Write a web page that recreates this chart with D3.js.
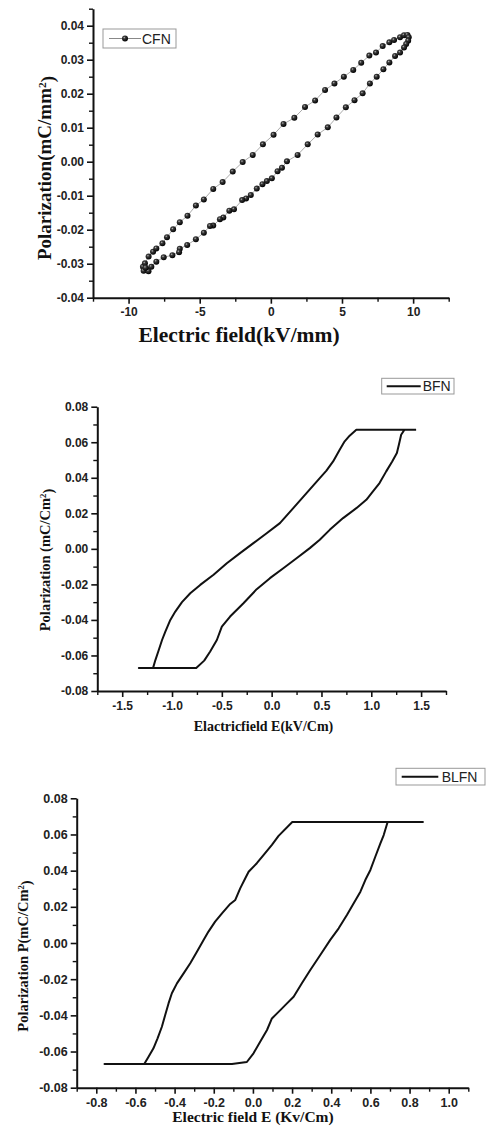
<!DOCTYPE html>
<html>
<head>
<meta charset="utf-8">
<script src="https://cdn.jsdelivr.net/npm/d3@7"></script>
<style>
  html, body { margin: 0; padding: 0; background: #fff; }
  svg { display: block; }
  .tick text { font-family: "Liberation Sans", Arial, sans-serif; font-weight: bold; fill: #222; }
</style>
</head>
<body>
<svg id="chart" width="486" height="1133"></svg>
<script>
// ---------------- DATA ----------------
// CFN (dots)
const cfnE = [-8.99,-8.85,-8.59,-8.28,-8.05,-7.62,-7.3,-6.87,-6.4,-5.86,-5.27,-4.71,-4.05,-3.39,-2.68,-1.98,-1.27,-0.56,0.19,0.89,1.65,2.40,3.11,3.81,4.47,5.13,5.79,6.35,6.92,7.39,7.86,8.33,8.66,9.08,9.36,9.6,
  9.69,9.65,9.51,9.36,9.08,8.73,8.33,7.91,7.44,6.96,6.45,5.88,5.27,4.61,4.00,3.29,2.59,1.88,1.13,0.78,0.47,0.07,-0.28,-0.59,-0.99,-1.41,-1.74,-2.02,-2.59,-2.92,-3.34,-3.58,-4.05,-4.28,-4.71,-5.27,-5.88,-6.40,-6.45,-6.92,-7.53,-8.05,-8.40,-8.75,-8.94,-8.6,-8.8];
const cfnP = [-0.0309,-0.0299,-0.0279,-0.0265,-0.0255,-0.0240,-0.0222,-0.0199,-0.0178,-0.0159,-0.0129,-0.0111,-0.0080,-0.0060,-0.0029,-0.0001,0.0020,0.0051,0.0079,0.0111,0.0129,0.0161,0.0180,0.0211,0.0230,0.0250,0.0270,0.0291,0.0312,0.0321,0.0340,0.0351,0.0358,0.0366,0.0372,0.0373,
  0.0366,0.0356,0.0346,0.0336,0.0321,0.0311,0.0292,0.0272,0.0250,0.0230,0.0201,0.0181,0.0160,0.0130,0.0101,0.0080,0.0051,0.0020,0.0001,-0.0018,-0.0028,-0.0049,-0.0057,-0.0066,-0.0079,-0.0098,-0.0108,-0.0113,-0.0140,-0.0144,-0.0164,-0.0169,-0.0188,-0.0189,-0.0209,-0.0228,-0.0245,-0.0256,-0.0266,-0.0275,-0.0281,-0.0294,-0.0309,-0.0317,-0.0321,-0.0322,-0.0312];

// BFN (line)
const bfnE = [1.45,0.85,0.783,0.733,0.683,0.617,0.55,0.483,0.35,0.217,0.083,-0.05,-0.183,-0.317,-0.45,-0.583,-0.717,-0.817,-0.9,-0.967,-1.017,-1.067,-1.1,-1.133,-1.167,-1.19,-1.333,-0.757,
  -0.677,-0.617,-0.55,-0.5,-0.417,-0.283,-0.15,-0.017,0.117,0.25,0.383,0.483,0.583,0.717,0.85,0.95,1.017,1.083,1.15,1.21,1.257,1.277,1.3,1.333,1.45];
const bfnP = [0.067,0.067,0.0637,0.0605,0.0558,0.0492,0.044,0.0398,0.0314,0.0229,0.0145,0.0088,0.0032,-0.0024,-0.0081,-0.0146,-0.0203,-0.025,-0.03,-0.0353,-0.04,-0.0466,-0.0513,-0.0569,-0.0626,-0.067,-0.067,-0.067,
  -0.0629,-0.0578,-0.0513,-0.0438,-0.0381,-0.0306,-0.0227,-0.0165,-0.0109,-0.0053,0.0004,0.0051,0.0107,0.0173,0.0229,0.0276,0.0323,0.037,0.0436,0.0492,0.0539,0.0586,0.0642,0.067,0.067];

// BLFN (line)
const blfnE = [0.872,0.201,0.131,0.097,0.055,0.020,-0.022,-0.039,-0.065,-0.090,-0.116,-0.158,-0.193,-0.227,-0.252,-0.286,-0.320,-0.354,-0.388,-0.414,-0.431,-0.448,-0.465,-0.487,-0.508,-0.533,-0.555,-0.758,-0.107,-0.031,
  0.003,0.037,0.072,0.097,0.140,0.174,0.208,0.250,0.293,0.344,0.395,0.438,0.480,0.514,0.549,0.574,0.600,0.625,0.651,0.668,0.688,0.872];
const blfnP = [0.0669,0.0669,0.0592,0.0542,0.0487,0.0441,0.0394,0.0358,0.0302,0.0238,0.0216,0.0164,0.0118,0.0063,0.0017,-0.0048,-0.0112,-0.0168,-0.0223,-0.0278,-0.0334,-0.0398,-0.0463,-0.0527,-0.0582,-0.0629,-0.0669,-0.0669,-0.0669,-0.0658,
  -0.061,-0.0546,-0.0481,-0.0417,-0.0371,-0.0334,-0.0297,-0.0223,-0.0149,-0.0066,0.0017,0.0081,0.0155,0.0219,0.0284,0.0348,0.0404,0.0477,0.0551,0.0597,0.0669,0.0669];

// Ticks
const cfnXTicks = [-10,-5,0,5,10];
const cfnXLabels = ["-10","-5","0","5","10"];
const cfnXMinor = [-12.5,-7.5,-2.5,2.5,7.5,12.5];
const cfnYTicks = [-0.04,-0.03,-0.02,-0.01,0,0.01,0.02,0.03,0.04];
const cfnYLabels = ["-0.04","-0.03","-0.02","-0.01","0.00","0.01","0.02","0.03","0.04"];
const cfnYMinor = [-0.035,-0.025,-0.015,-0.005,0.005,0.015,0.025,0.035,0.045];

const bfnXTicks = [-1.5,-1.0,-0.5,0,0.5,1.0,1.5];
const bfnXLabels = ["-1.5","-1.0","-0.5","0.0","0.5","1.0","1.5"];
const bfnXMinor = [-1.75,-1.25,-0.75,-0.25,0.25,0.75,1.25,1.75];

const pYTicks = [-0.08,-0.06,-0.04,-0.02,0,0.02,0.04,0.06,0.08];
const pYLabels = ["-0.08","-0.06","-0.04","-0.02","0.00","0.02","0.04","0.06","0.08"];
const pYMinor = [-0.07,-0.05,-0.03,-0.01,0.01,0.03,0.05,0.07];

const blfnXTicks = [-0.8,-0.6,-0.4,-0.2,0,0.2,0.4,0.6,0.8,1.0];
const blfnXLabels = ["-0.8","-0.6","-0.4","-0.2","0.0","0.2","0.4","0.6","0.8","1.0"];
const blfnXMinor = [-0.9,-0.7,-0.5,-0.3,-0.1,0.1,0.3,0.5,0.7,0.9,1.1];

// ---------------- DRAW ----------------
const svg = d3.select("#chart");
const defs = svg.append("defs");
const grad = defs.append("radialGradient").attr("id","ball").attr("cx","38%").attr("cy","35%").attr("r","65%");
grad.append("stop").attr("offset","0%").attr("stop-color","#bbbbbb");
grad.append("stop").attr("offset","30%").attr("stop-color","#3a3a3a");
grad.append("stop").attr("offset","100%").attr("stop-color","#000");

const SERIF = "'Liberation Serif','Times New Roman',serif";
const SANS = "'Liberation Sans',Arial,sans-serif";

function drawPanel(o) {
  const g = svg.append("g");
  const x = d3.scaleLinear().domain(o.xDomain).range(o.xRange);
  const y = d3.scaleLinear().domain(o.yDomain).range(o.yRange);

  // minor ticks
  g.append("g").attr("transform", `translate(0,${o.yRange[0]})`)
    .call(d3.axisBottom(x).tickValues(o.xMinor).tickSize(4).tickSizeOuter(0).tickFormat(""))
    .call(s => s.select(".domain").remove())
    .call(s => s.selectAll("line").attr("stroke","#111").attr("stroke-width",1.4));
  g.append("g").attr("transform", `translate(${o.xRange[0]},0)`)
    .call(d3.axisLeft(y).tickValues(o.yMinor).tickSize(4).tickSizeOuter(0).tickFormat(""))
    .call(s => s.select(".domain").remove())
    .call(s => s.selectAll("line").attr("stroke","#111").attr("stroke-width",1.4));

  // major axes
  const xa = g.append("g").attr("transform", `translate(0,${o.yRange[0]})`)
    .call(d3.axisBottom(x).tickValues(o.xTicks).tickSize(6).tickSizeOuter(0).tickPadding(4)
      .tickFormat((d,i) => o.xLabels[i]));
  const ya = g.append("g").attr("transform", `translate(${o.xRange[0]},0)`)
    .call(d3.axisLeft(y).tickValues(o.yTicks).tickSize(6).tickSizeOuter(0).tickPadding(3)
      .tickFormat((d,i) => o.yLabels[i]));
  [xa, ya].forEach(a => {
    a.select(".domain").attr("stroke","#111").attr("stroke-width",2);
    a.selectAll(".tick line").attr("stroke","#111").attr("stroke-width",1.6);
    a.selectAll(".tick text").style("font-size", o.tickFont + "px").attr("fill","#1a1a1a");
  });

  const pts = d3.zip(o.E, o.P);
  const line = d3.line().x(d => x(d[0])).y(d => y(d[1]));
  if (o.dots) {
    g.append("path").datum(pts.concat([pts[0]])).attr("d", line)
      .attr("fill","none").attr("stroke","#aaa").attr("stroke-width",1);
    g.selectAll("circle.pt").data(pts).join("circle").attr("class","pt")
      .attr("cx", d => x(d[0])).attr("cy", d => y(d[1])).attr("r", 3)
      .attr("fill","url(#ball)");
  } else {
    g.append("path").datum(pts).attr("d", line)
      .attr("fill","none").attr("stroke","#111").attr("stroke-width",2).attr("stroke-linejoin","round");
  }

  // axis titles
  g.append("text").attr("x", o.xTitle.x).attr("y", o.xTitle.y)
    .attr("text-anchor","middle").style("font-family", SERIF).style("font-weight","bold")
    .style("font-size", o.xTitle.size + "px").attr("fill","#111").text(o.xTitle.text);
  const yt = g.append("text").attr("transform", `translate(${o.yTitle.x},${o.yTitle.y}) rotate(-90)`)
    .attr("text-anchor","middle").style("font-family", SERIF).style("font-weight","bold")
    .style("font-size", o.yTitle.size + "px").attr("fill","#111");
  yt.append("tspan").text(o.yTitle.text);
  yt.append("tspan").attr("dy","-0.45em").style("font-size","0.6em").text("2");
  yt.append("tspan").attr("dy","0.45em").text(")");

  // legend
  const L = o.legend;
  const lg = g.append("g");
  lg.append("rect").attr("x", L.x).attr("y", L.y).attr("width", L.w).attr("height", L.h)
    .attr("fill","#fff").attr("stroke","#999").attr("stroke-width",1);
  const cy = L.y + L.h / 2;
  lg.append("line").attr("x1", L.lx1).attr("x2", L.lx2).attr("y1", cy).attr("y2", cy)
    .attr("stroke", o.dots ? "#888" : "#111").attr("stroke-width", o.dots ? 1 : 2);
  if (o.dots) {
    lg.append("circle").attr("cx", (L.lx1 + L.lx2) / 2).attr("cy", cy).attr("r", 3).attr("fill","url(#ball)");
  }
  lg.append("text").attr("x", L.tx).attr("y", cy + 5).style("font-family", SANS)
    .style("font-size","14px").attr("fill","#222").text(L.text);
}

drawPanel({
  E: cfnE, P: cfnP, dots: true,
  xDomain: [-12.5, 12.5], xRange: [93, 448.7],
  yDomain: [-0.04, 0.045], yRange: [297.7, 8.7],
  xTicks: cfnXTicks, xLabels: cfnXLabels, xMinor: cfnXMinor,
  yTicks: cfnYTicks, yLabels: cfnYLabels, yMinor: cfnYMinor,
  tickFont: 12,
  xTitle: { text: "Electric field(kV/mm)", x: 239, y: 342, size: 21.5 },
  yTitle: { text: "Polarization(mC/mm", x: 51, y: 168, size: 19 },
  legend: { x: 103, y: 29, w: 73, h: 19, lx1: 109, lx2: 141, tx: 142, text: "CFN" }
});

drawPanel({
  E: bfnE, P: bfnP, dots: false,
  xDomain: [-1.75, 1.75], xRange: [97.3, 446],
  yDomain: [-0.08, 0.08], yRange: [691, 406.7],
  xTicks: bfnXTicks, xLabels: bfnXLabels, xMinor: bfnXMinor,
  yTicks: pYTicks, yLabels: pYLabels, yMinor: pYMinor,
  tickFont: 12,
  xTitle: { text: "Elactricfield E(kV/Cm)", x: 263.5, y: 731, size: 14 },
  yTitle: { text: "Polarization (mC/Cm", x: 50, y: 560, size: 14.5 },
  legend: { x: 381.7, y: 378.3, w: 72.3, h: 15.7, lx1: 386.7, lx2: 420.7, tx: 422.7, text: "BFN" }
});

drawPanel({
  E: blfnE, P: blfnP, dots: false,
  xDomain: [-0.9, 1.1], xRange: [76.7, 468.3],
  yDomain: [-0.08, 0.08], yRange: [1087.7, 798.3],
  xTicks: blfnXTicks, xLabels: blfnXLabels, xMinor: blfnXMinor,
  yTicks: pYTicks, yLabels: pYLabels, yMinor: pYMinor,
  tickFont: 12.5,
  xTitle: { text: "Electric field E (Kv/Cm)", x: 253, y: 1121.5, size: 15.5 },
  yTitle: { text: "Polarization P(mC/Cm", x: 28, y: 956, size: 14.5 },
  legend: { x: 396, y: 768.3, w: 89, h: 16.7, lx1: 401.7, lx2: 438.3, tx: 441.7, text: "BLFN" }
});
</script>
</body>
</html>
